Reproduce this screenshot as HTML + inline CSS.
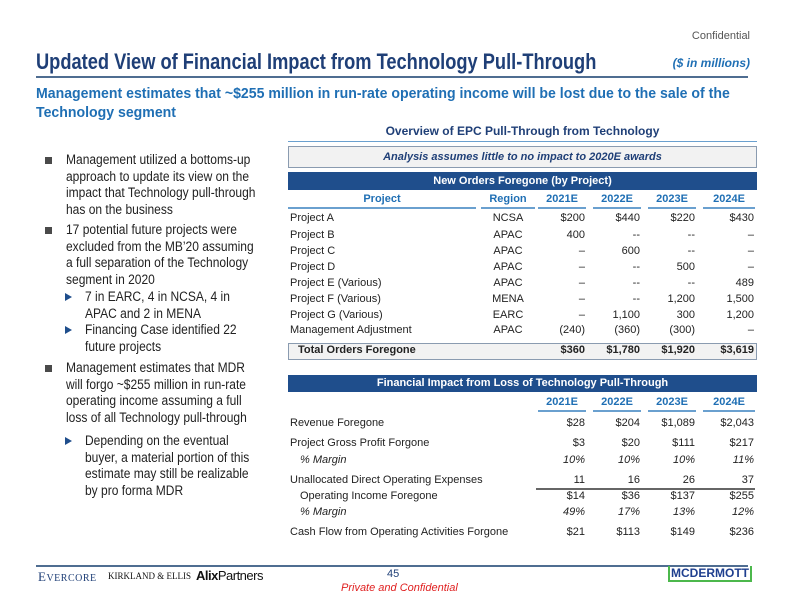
<!DOCTYPE html>
<html><head><meta charset="utf-8"><style>
body{margin:0;width:792px;height:612px;position:relative;background:#fff;font-family:"Liberation Sans",sans-serif;overflow:hidden}
.a{position:absolute;white-space:nowrap}
.t{font-size:11px;color:#222;line-height:13px}
.r{text-align:right}
.hd{font-size:11px;font-weight:bold;color:#1f6fb4;text-align:center;line-height:13px;border-bottom:2px solid #6aa0cf;padding-bottom:1px}
.bl{font-size:13.5px;color:#222;line-height:16px;transform:scaleX(0.89);transform-origin:0 0}
.sq{position:absolute;width:7px;height:7px;background:#4a4a4a}
.tri{position:absolute;width:0;height:0;border-left:7px solid #1f4e8c;border-top:4px solid transparent;border-bottom:4px solid transparent}
</style></head><body>
<div class="a" style="right:42px;top:30px;font-size:11px;color:#555">Confidential</div>
<div class="a" style="left:36px;top:49px;font-size:22px;font-weight:bold;color:#1f3f77;transform:scaleX(0.83);transform-origin:0 0">Updated View of Financial Impact from Technology Pull-Through</div>
<div class="a" style="right:42px;top:56px;font-size:12px;font-weight:bold;font-style:italic;color:#1f6fb4">($ in millions)</div>
<div class="a" style="left:36px;top:76px;width:712px;height:2px;background:#4f6d91"></div>
<div class="a" style="left:36px;top:84px;font-size:15px;font-weight:bold;color:#1f6fb4;line-height:19px;transform:scaleX(0.94);transform-origin:0 0">Management estimates that ~$255 million in run-rate operating income will be lost due to the sale of the<br>Technology segment</div>

<div id="left"></div>

<div class="a" style="left:288px;top:124px;width:469px;text-align:center;font-size:12px;font-weight:bold;color:#1f3f77">Overview of EPC Pull-Through from Technology</div>
<div class="a" style="left:288px;top:141px;width:469px;height:1px;background:#6aa0cf"></div>
<div class="a" style="left:288px;top:146px;width:467px;height:20px;border:1px solid #8a9bb0;background:#f2f2f2;text-align:center;font-size:11px;font-weight:bold;font-style:italic;color:#1f3f77;line-height:20px">Analysis assumes little to no impact to 2020E awards</div>
<div class="a" style="left:288px;top:172px;width:469px;height:18px;background:#1f4e8c;color:#fff;text-align:center;font-size:11px;font-weight:bold;line-height:18px">New Orders Foregone (by Project)</div>
<div class="a" style="left:288px;top:343px;width:467px;height:15px;border:1px solid #8a9bb0;background:#f2f2f2"></div>
<div class="a" style="left:288px;top:375px;width:469px;height:17px;background:#1f4e8c;color:#fff;text-align:center;font-size:11px;font-weight:bold;line-height:17px">Financial Impact from Loss of Technology Pull-Through</div>
<div class="a" style="left:536px;top:488px;width:219px;height:2px;background:#666"></div>
<div id="tables"></div>

<div class="a" style="left:36px;top:565px;width:712px;height:2px;background:#4f6d91"></div>
<div class="a" style="left:38px;top:569px;font-family:'Liberation Serif',serif;font-size:13px;color:#1f3f77;letter-spacing:0.5px">E<span style="font-size:10px">VERCORE</span></div>
<div class="a" style="left:108px;top:571px;font-family:'Liberation Serif',serif;font-size:9px;color:#111">KIRKLAND &amp; ELLIS</div>
<div class="a" style="left:196px;top:568px;font-size:13px;color:#111;letter-spacing:-0.5px"><b>Alix</b>Partners</div>
<div class="a" style="left:387px;top:568px;font-size:11px;color:#1f3f77">45</div>
<div class="a" style="left:341px;top:582px;font-size:11px;font-style:italic;color:#e02020">Private and Confidential</div>
<div class="a" style="left:668px;top:566px;font-size:12px;font-weight:bold;color:#1f3f8f;border-bottom:2px solid #4cb84c;border-left:2px solid #4cb84c;border-right:2px solid #4cb84c;padding:0 1px;line-height:14px">MCDERMOTT</div>

<script>
var yearLabels=["2021E","2022E","2023E","2024E"];
var projectNames=["Project A","Project B","Project C","Project D","Project E (Various)","Project F (Various)","Project G (Various)","Management Adjustment"];
var projectRegions=["NCSA","APAC","APAC","APAC","APAC","MENA","EARC","APAC"];
var orders2021=["$200","400","–","–","–","–","–","(240)"];
var orders2022=["$440","--","600","--","--","--","1,100","(360)"];
var orders2023=["$220","--","--","500","--","1,200","300","(300)"];
var orders2024=["$430","–","–","–","489","1,500","1,200","–"];
var orderTotals=["$360","$1,780","$1,920","$3,619"];
var finLabels=["Revenue Foregone","Project Gross Profit Forgone","% Margin","Unallocated Direct Operating Expenses","Operating Income Foregone","% Margin","Cash Flow from Operating Activities Forgone"];
var fin2021=["$28","$3","10%","11","$14","49%","$21"];
var fin2022=["$204","$20","10%","16","$36","17%","$113"];
var fin2023=["$1,089","$111","10%","26","$137","13%","$149"];
var fin2024=["$2,043","$217","11%","37","$255","12%","$236"];
var bullets=[
 {lvl:1,lines:["Management utilized a bottoms-up","approach to update its view on the","impact that Technology pull-through","has on the business"],top:152},
 {lvl:1,lines:["17 potential future projects were","excluded from the MB’20 assuming","a full separation of the Technology","segment in 2020"],top:222},
 {lvl:2,lines:["7 in EARC, 4 in NCSA, 4 in","APAC and 2 in MENA"],top:289},
 {lvl:2,lines:["Financing Case identified 22","future projects"],top:322},
 {lvl:1,lines:["Management estimates that MDR","will forgo ~$255 million in run-rate","operating income assuming a full","loss of all Technology pull-through"],top:360},
 {lvl:2,lines:["Depending on the eventual","buyer, a material portion of this","estimate may still be realizable","by pro forma MDR"],top:433}
];
var root=document.getElementById('tables');
function cell(txt,x,y,w,cls,name,extra){
 var d=document.createElement('div');
 d.className='a '+cls;
 d.textContent=txt;
 d.style.left=x+'px';d.style.top=y+'px';
 if(w)d.style.width=w+'px';
 if(extra)d.style.cssText+=extra;
 
 
 root.appendChild(d);return d;
}
var colX=[538,593,648,703],colW=[48,48,48,52];
cell("Project",288,193,188,'hd','project-col-header');
cell("Region",481,193,54,'hd','region-col-header');
yearLabels.forEach(function(l,i){cell(l,colX[i],193,colW[i],'hd','orders-year-header');});
var oy=[212,229,245,261,277,293,309,324];
var oc=[orders2021,orders2022,orders2023,orders2024];
projectNames.forEach(function(n,i){
 cell(n,290,oy[i],null,'t','project-name');
 cell(projectRegions[i],481,oy[i],54,'t','project-region','text-align:center');
 oc.forEach(function(c,j){cell(c[i],colX[j],oy[i],colW[j]-1,'t r','order-value');});
});
cell("Total Orders Foregone",298,344,null,'t','total-label','font-weight:bold');
orderTotals.forEach(function(v,j){cell(v,colX[j],344,colW[j]-1,'t r','total-value','font-weight:bold');});
yearLabels.forEach(function(l,i){cell(l,colX[i],396,colW[i],'hd','fin-year-header');});
var fy=[417,437,454,474,490,506,526];
var fc=[fin2021,fin2022,fin2023,fin2024];
finLabels.forEach(function(n,i){
 var indent=(i==2||i==4||i==5)?10:0;
 var it=(i==2||i==5)?'font-style:italic':'';
 cell(n,290+indent,fy[i],null,'t','fin-row-label',it);
 fc.forEach(function(c,j){cell(c[i],colX[j],fy[i],colW[j]-1,'t r','fin-value',it);});
});
var left=document.getElementById('left');
bullets.forEach(function(b){
 var m=document.createElement('div');
 m.className=b.lvl==1?'sq':'tri';
 m.style.left=(b.lvl==1?45:65)+'px';
 m.style.top=(b.top+(b.lvl==1?5:4))+'px';
 
 
 left.appendChild(m);
 b.lines.forEach(function(ln,k){
  var t=document.createElement('div');
  t.className='a bl';
  t.textContent=ln;
  t.style.left=(b.lvl==1?66:85)+'px';
  t.style.top=(b.top+k*16.6)+'px';
  
  
  left.appendChild(t);
 });
});
</script>
</body></html>
